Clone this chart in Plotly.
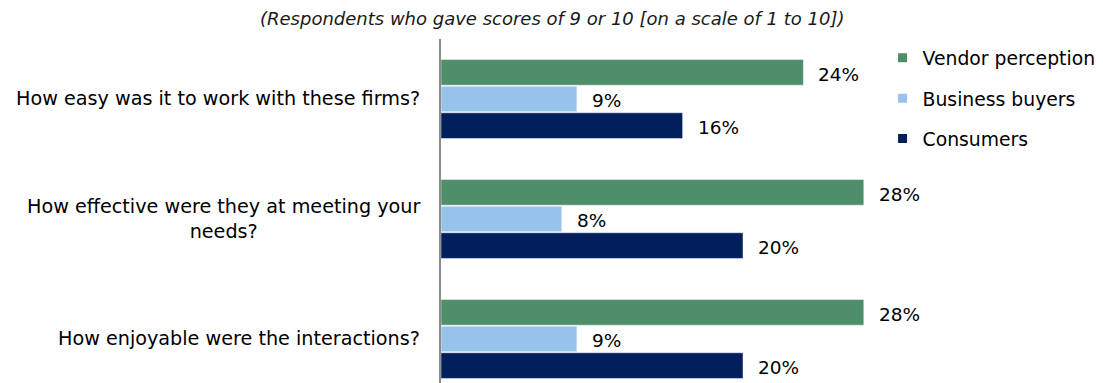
import plotly.graph_objects as go

# Survey questions (top to bottom) and share of 9-10 scores, in percent
questions = [
    "How easy was it to work with these firms?",
    "How effective were they at meeting your<br>needs?",
    "How enjoyable were the interactions?",
]
series_names = ["Vendor perception", "Business buyers", "Consumers"]
vendor_perception = [24, 28, 28]
business_buyers = [9, 8, 9]
consumers = [16, 20, 20]

colors = ["#4E8E6A", "#97C3EB", "#001F5C"]
values = [vendor_perception, business_buyers, consumers]

FONT = "DejaVu Sans, Liberation Sans, Arial, sans-serif"
offsets = [-0.222, 0.0, 0.222]
bar_w = 0.214

fig = go.Figure()

for name, vals, col, off in zip(series_names, values, colors, offsets):
    ys = [i + off for i in range(len(questions))]
    fig.add_trace(go.Bar(
        x=vals, y=ys, orientation="h", width=bar_w,
        marker=dict(color=col, line=dict(color="rgba(255,255,255,0.6)", width=0.8)),
        showlegend=False, hoverinfo="x",
    ))
    # value labels to the right of each bar
    for v, y in zip(vals, ys):
        fig.add_annotation(
            x=v, y=y, xref="x", yref="y", text=f"{v}%", showarrow=False,
            xanchor="left", yanchor="middle", xshift=13, yshift=-2,
            font=dict(family=FONT, size=18.5, color="#000000"),
        )
    # legend entry with a small square swatch
    fig.add_trace(go.Scatter(
        x=[None], y=[None], mode="markers", name=name, legendgroup=name,
        marker=dict(symbol="square", size=9, color=col),
    ))

# category labels, lines centred within each label
for i, q in enumerate(questions):
    fig.add_annotation(
        x=0, y=i, xref="paper", yref="y", text=q, showarrow=False,
        xanchor="right", yanchor="middle", align="center", xshift=-19,
        font=dict(family=FONT, size=19.2, color="#000000"),
    )

fig.add_annotation(
    x=(552 - 441) / 662, y=1, xref="paper", yref="paper", yshift=21,
    text="<i>(Respondents who gave scores of 9 or 10 [on a scale of 1 to 10])</i>",
    showarrow=False, xanchor="center", yanchor="middle",
    font=dict(family=FONT, size=18, color="#1a1a1a"),
)

fig.update_layout(
    width=1103, height=383,
    margin=dict(l=441, r=0, t=39, b=0),
    paper_bgcolor="white", plot_bgcolor="white",
    xaxis=dict(range=[0, 43.84], visible=False, fixedrange=True),
    yaxis=dict(range=[2.367, -0.5], showticklabels=False, showgrid=False,
               zeroline=False, showline=True, linecolor="#8c8c8c", linewidth=1.5,
               ticks="", fixedrange=True),
    legend=dict(x=0.667, y=1.0, xanchor="left", yanchor="top",
                bgcolor="rgba(0,0,0,0)", tracegroupgap=13, itemwidth=30,
                font=dict(family=FONT, size=18.8, color="#000000")),
    showlegend=True,
)

fig.write_html("out.html")
